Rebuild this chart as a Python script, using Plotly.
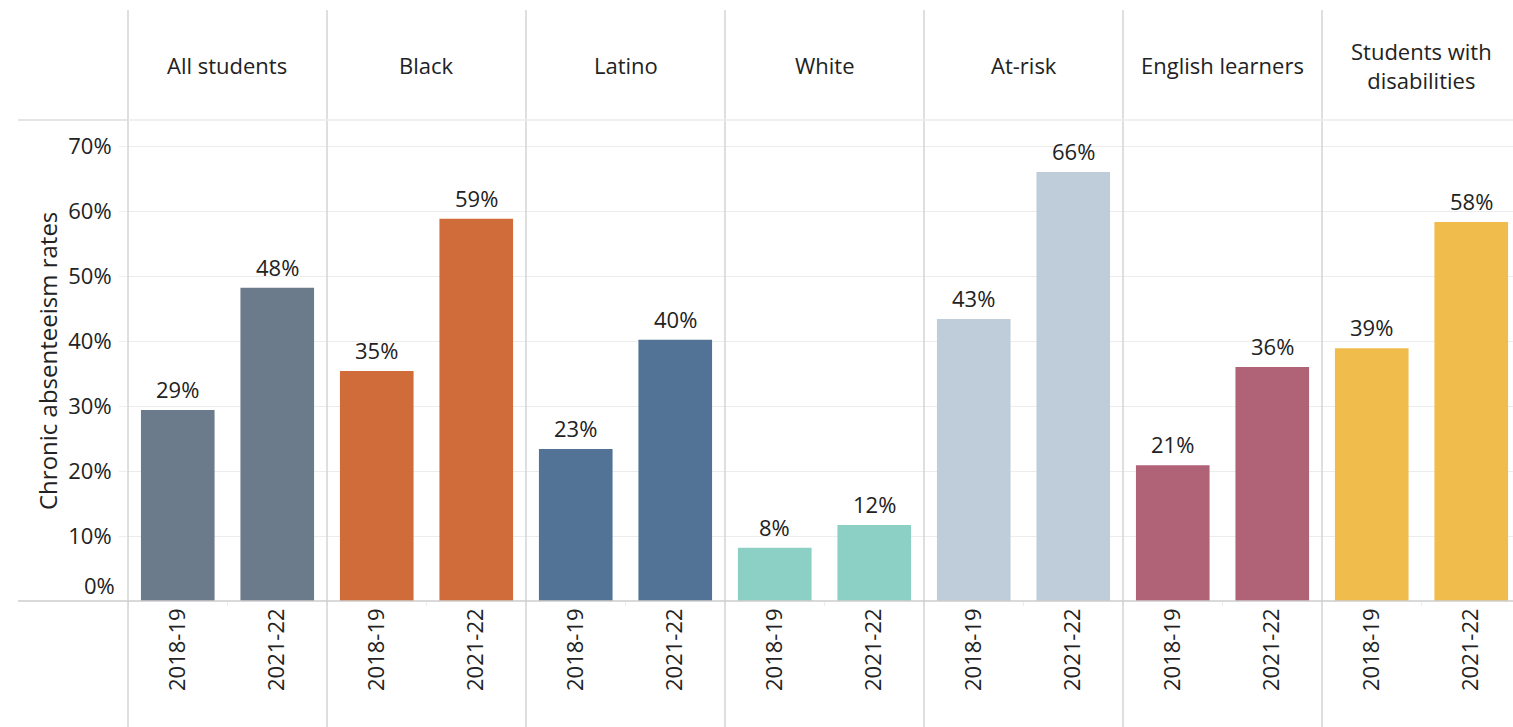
import plotly.graph_objects as go
from plotly.subplots import make_subplots

# ---- data ----
groups = ["All students", "Black", "Latino", "White", "At-risk",
          "English learners", "Students with<br>disabilities"]
years = ["2018-19", "2021-22"]
rate_2018_19 = [29.4, 35.4, 23.4, 8.2, 43.4, 20.9, 38.9]
rate_2021_22 = [48.2, 58.8, 40.2, 11.7, 66.0, 36.0, 58.3]
colors = ["#6c7b8b", "#d06c3a", "#527396", "#8ccfc4", "#bfcddb", "#b06277", "#f0bc4c"]
y_tick_vals = [10, 20, 30, 40, 50, 60, 70]
y_tick_text = ["10%", "20%", "30%", "40%", "50%", "60%", "70%"]
y_title = "Chronic absenteeism rates"

# ---- layout geometry (pixels) ----
W, H = 1513, 727
left_px = 128
panel_px = 199
plot_top_px = 120
plot_bot_px = 601
header_top_px = 10
FONT = "Open Sans"
FS = 22
TXT = "#222222"

n = len(groups)
fig = make_subplots(rows=1, cols=n, shared_yaxes=True, horizontal_spacing=0)

for i in range(n):
    vals = [rate_2018_19[i], rate_2021_22[i]]
    fig.add_trace(go.Bar(x=years, y=vals, marker_color=colors[i], width=0.74,
                         marker_line_width=0, showlegend=False,
                         hovertemplate="%{x}: %{y:.0f}%<extra></extra>"),
                  row=1, col=i + 1)
    for yr, v in zip(years, vals):
        fig.add_annotation(x=yr, y=v, text=f"{v:.0f}%", showarrow=False,
                           yanchor="bottom", yshift=4,
                           font=dict(family=FONT, size=FS, color=TXT),
                           row=1, col=i + 1)

y0 = 1 - plot_bot_px / H
y1 = 1 - plot_top_px / H
for i in range(n):
    xs = left_px + panel_px * i
    xe = left_px + panel_px * (i + 1)
    rng_end = 1.5
    if xe > W:
        rng_end = 1.5 - (xe - W) / (panel_px / 2)
        xe = W
    key = "xaxis" if i == 0 else f"xaxis{i + 1}"
    ykey = "yaxis" if i == 0 else f"yaxis{i + 1}"
    fig.update_layout(**{
        key: dict(domain=[xs / W, xe / W], type="category", range=[-0.5, rng_end],
                  tickangle=-90, showgrid=False, zeroline=False, showline=False,
                  ticks="outside", tickson="boundaries", ticklen=4,
                  tickcolor="#eeeeee", ticklabelstandoff=2,
                  tickfont=dict(family=FONT, size=FS, color=TXT)),
        ykey: dict(domain=[y0, y1], range=[0, 74], tickvals=y_tick_vals,
                   ticktext=y_tick_text, showgrid=True, gridcolor="#ececec",
                   gridwidth=1, zeroline=False, showline=False,
                   showticklabels=(i == 0),
                   ticks="outside" if i == 0 else "", ticklen=8,
                   tickcolor="#eeeeee", ticklabelstandoff=3,
                   tickfont=dict(family=FONT, size=FS, color=TXT)),
    })
    # panel header
    cx = (xs + panel_px / 2) / W
    fig.add_annotation(xref="paper", yref="paper", x=cx,
                       y=1 - 65 / H, text=groups[i], showarrow=False,
                       xanchor="center", yanchor="middle",
                       font=dict(family=FONT, size=FS, color=TXT))

# 0% tick label sits above the baseline
fig.add_annotation(xref="paper", yref="y", x=117 / W, y=0, text="0%", showarrow=False,
                   xanchor="right", yanchor="middle", yshift=16,
                   font=dict(family=FONT, size=FS, color=TXT))
# y-axis title
fig.add_annotation(xref="paper", yref="paper", x=47 / W, y=1 - 361 / H, text=y_title,
                   textangle=-90, showarrow=False, xanchor="center", yanchor="middle",
                   font=dict(family=FONT, size=24, color=TXT))

shapes = []
for i in range(n):
    xp = (left_px + panel_px * i) / W
    shapes.append(dict(type="line", xref="paper", yref="paper", x0=xp, x1=xp,
                       y0=0, y1=1 - header_top_px / H,
                       line=dict(color="#d4d4d4", width=1.5)))
shapes.append(dict(type="line", xref="paper", yref="paper", x0=18 / W, x1=left_px / W,
                   y0=y1, y1=y1, line=dict(color="#dcdcdc", width=1.5)))
shapes.append(dict(type="line", xref="paper", yref="paper", x0=left_px / W, x1=1,
                   y0=y1, y1=y1, line=dict(color="#ebebeb", width=1.5)))
shapes.append(dict(type="line", xref="paper", yref="paper", x0=18 / W, x1=1,
                   y0=y0, y1=y0, line=dict(color="#cccccc", width=1.5)))

fig.update_layout(width=W, height=H, margin=dict(l=0, r=0, t=0, b=0),
                  paper_bgcolor="white", plot_bgcolor="white", shapes=shapes,
                  bargap=0.26, font=dict(family=FONT, size=FS, color=TXT))

fig.write_html("out.html")
